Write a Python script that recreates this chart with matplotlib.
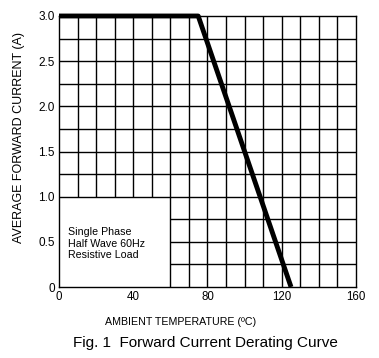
import matplotlib
matplotlib.use("Agg")
import matplotlib.pyplot as plt

plt.rcParams['font.family'] = ['Liberation Sans', 'DejaVu Sans']

# Data
temp = [0, 75, 125]
current = [3.0, 3.0, 0.0]
xticks = [0, 40, 80, 120, 160]
yticks = [0, 0.5, 1.0, 1.5, 2.0, 2.5, 3.0]
ytick_labels = ['0', '0.5', '1.0', '1.5', '2.0', '2.5', '3.0']
note = "Single Phase\nHalf Wave 60Hz\nResistive Load"

fig = plt.figure(figsize=(3.79, 3.58), dpi=100)
ax = fig.add_axes([59/379, 71/358, 297/379, 271/358])
ax.set_xlim(0, 160)
ax.set_ylim(0, 3.0)

# grid (blank box in lower left)
for xv in range(10, 160, 10):
    y0 = 0 if xv >= 60 else 1.0
    ax.vlines(xv, y0, 3.0, color='black', lw=1.0, zorder=1)
for i in range(1, 12):
    yv = i * 0.25
    x0 = 60 if yv < 1.0 else 0
    ax.hlines(yv, x0, 160, color='black', lw=1.0, zorder=1)

ax.plot(temp, current, color='black', lw=3.5, solid_capstyle='butt', zorder=3, clip_on=False)

for s in ax.spines.values():
    s.set_linewidth(1.0)

ax.set_xticks(xticks)
ax.set_xticklabels([str(v) for v in xticks], fontsize=8.3)
ax.set_yticks(yticks)
ax.set_yticklabels(ytick_labels, fontsize=8.5)
ax.tick_params(length=0, pad=3)

ax.text(4.8, 0.48, note, fontsize=7.7, va='center', ha='left', linespacing=1.15)

fig.text(19.5/379, 1 - 137/358, "AVERAGE FORWARD CURRENT (A)", rotation=90,
         fontsize=9, ha='center', va='center')
fig.text(181/379, 1 - 322/358, "AMBIENT TEMPERATURE (ºC)", fontsize=7.7,
         ha='center', va='center')
fig.text(205/379, 1 - 343/358, "Fig. 1  Forward Current Derating Curve",
         fontsize=11, ha='center', va='center')

fig.savefig("out.png", dpi=100)
